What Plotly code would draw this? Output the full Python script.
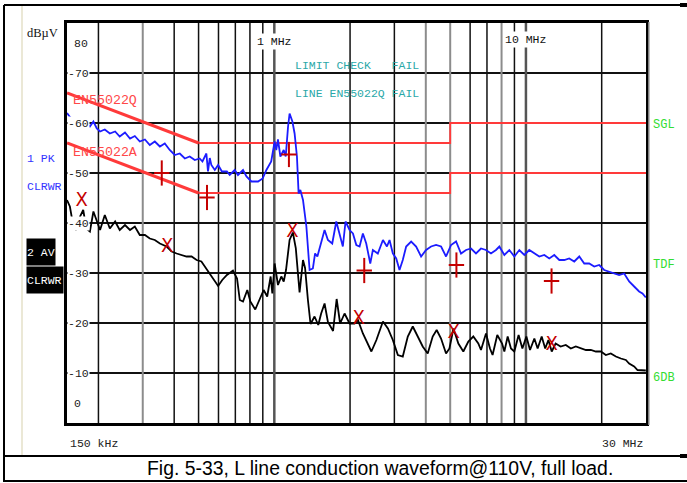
import math
import plotly.graph_objects as go

# ---------------- data ----------------
pk_freq = [0.150, 0.154, 0.161, 0.169, 0.177, 0.185, 0.191, 0.197, 0.203, 0.212,
           0.222, 0.233, 0.243, 0.255, 0.267, 0.279, 0.292, 0.306, 0.320, 0.335,
           0.351, 0.367, 0.384, 0.402, 0.421, 0.441, 0.461, 0.483, 0.505, 0.518,
           0.537, 0.545, 0.554, 0.562, 0.580, 0.598, 0.619, 0.648, 0.665, 0.696,
           0.717, 0.751, 0.775, 0.811, 0.862, 0.899, 0.930, 0.972, 1.003, 1.018,
           1.034, 1.057, 1.090, 1.110, 1.134, 1.150, 1.180, 1.204, 1.230, 1.249,
           1.269, 1.300, 1.341, 1.381, 1.423, 1.452, 1.483, 1.530, 1.584, 1.633,
           1.699, 1.763, 1.817, 1.872, 1.919, 1.991, 2.053, 2.118, 2.182, 2.249,
           2.319, 2.406, 2.464, 2.578, 2.702, 2.803, 2.870, 2.958, 3.051, 3.144,
           3.240, 3.342, 3.498, 3.661, 3.831, 4.011, 4.197, 4.394, 4.599, 4.814,
           5.039, 5.275, 5.521, 5.779, 6.050, 6.331, 6.628, 6.938, 7.262, 7.602,
           7.841, 8.207, 8.591, 8.993, 9.413, 9.853, 10.31, 10.80, 11.30, 11.83,
           12.38, 12.96, 13.57, 14.20, 14.86, 15.56, 16.29, 17.05, 17.84, 18.68,
           19.55, 20.46, 21.42, 22.42, 23.47, 24.57, 25.71, 26.92, 28.17, 29.04,
           29.95]
pk_level = [62.0, 61.2, 60.3, 59.6, 60.5, 59.3, 60.3, 58.9, 58.3, 58.7,
            57.9, 58.3, 57.3, 58.1, 56.9, 57.4, 56.3, 56.7, 55.6, 56.3,
            55.3, 55.9, 54.6, 53.6, 53.9, 52.9, 53.3, 52.6, 52.9, 52.3,
            53.9, 50.3, 53.0, 51.6, 50.6, 51.6, 50.3, 50.3, 49.6, 50.6,
            49.6, 50.6, 49.3, 48.3, 48.3, 48.9, 50.6, 52.3, 56.3, 54.6,
            56.7, 53.3, 54.6, 53.3, 59.3, 61.9, 60.3, 57.9, 53.3, 45.9,
            46.6, 44.6, 39.3, 30.6, 30.9, 33.9, 33.3, 35.9, 38.6, 36.6,
            35.9, 40.3, 37.9, 35.3, 40.3, 38.6, 37.9, 35.6, 35.3, 37.9,
            35.9, 31.9, 34.6, 33.9, 36.6, 35.3, 36.6, 33.9, 32.9, 30.6,
            32.6, 35.3, 36.3, 35.3, 33.3, 34.6, 35.3, 35.6, 35.3, 33.3,
            35.6, 36.3, 33.9, 34.6, 34.9, 33.9, 34.9, 34.6, 33.9, 34.6,
            35.3, 33.6, 34.6, 33.3, 34.6, 33.6, 34.6, 33.9, 33.3, 33.6,
            32.9, 33.6, 32.6, 32.6, 32.9, 32.3, 33.3, 31.9, 31.9, 31.3,
            31.6, 30.6, 30.3, 29.9, 29.6, 29.9, 28.3, 27.3, 26.3, 25.9,
            25.1]

av_freq = [0.150, 0.154, 0.159, 0.163, 0.169, 0.174, 0.179, 0.185, 0.191, 0.197,
           0.203, 0.212, 0.222, 0.233, 0.243, 0.255, 0.267, 0.279, 0.292, 0.306,
           0.320, 0.335, 0.351, 0.373, 0.391, 0.409, 0.428, 0.448, 0.469, 0.491,
           0.513, 0.537, 0.562, 0.588, 0.598, 0.621, 0.648, 0.685, 0.711, 0.729,
           0.751, 0.781, 0.803, 0.840, 0.870, 0.907, 0.937, 0.967, 0.982, 1.003,
           1.034, 1.066, 1.090, 1.113, 1.150, 1.185, 1.217, 1.260, 1.300, 1.325,
           1.360, 1.393, 1.445, 1.495, 1.535, 1.584, 1.633, 1.712, 1.769, 1.826,
           1.902, 1.991, 2.084, 2.149, 2.249, 2.354, 2.431, 2.545, 2.702, 2.828,
           2.958, 3.097, 3.240, 3.392, 3.550, 3.716, 3.888, 4.070, 4.260, 4.418,
           4.599, 4.814, 4.965, 5.152, 5.388, 5.638, 5.903, 6.177, 6.467, 6.628,
           6.938, 7.196, 7.369, 7.693, 8.040, 8.207, 8.460, 8.720, 8.993, 9.350,
           9.680, 10.04, 10.38, 10.80, 11.13, 11.55, 11.93, 12.28, 12.66, 13.12,
           13.73, 14.40, 15.08, 15.78, 16.51, 17.31, 18.11, 18.96, 19.85, 20.77,
           21.74, 22.77, 23.84, 24.95, 25.71, 26.92, 27.76, 29.04, 29.95]
av_level = [44.6, 43.3, 39.3, 38.6, 41.3, 42.6, 38.9, 38.3, 42.3, 40.6,
            38.6, 41.6, 38.9, 40.3, 38.6, 39.6, 38.6, 39.3, 37.6, 37.6,
            36.9, 36.6, 35.9, 35.3, 34.3, 33.9, 33.6, 33.3, 33.3, 32.6,
            32.3, 30.9, 29.3, 27.9, 27.4, 28.6, 29.6, 30.5, 28.9, 24.6,
            24.3, 26.6, 24.3, 22.7, 24.6, 26.6, 25.3, 29.3, 25.9, 31.9,
            27.6, 29.3, 28.3, 30.6, 36.6, 38.1, 35.0, 26.1, 32.6, 31.0,
            24.6, 19.8, 21.3, 19.6, 21.9, 23.9, 20.2, 18.4, 24.8, 19.9,
            21.9, 19.9, 19.9, 20.6, 17.9, 15.9, 14.3, 16.6, 20.3, 18.9,
            16.6, 13.6, 13.3, 17.3, 19.3, 17.3, 15.3, 13.9, 17.3, 18.6,
            16.9, 13.9, 14.9, 18.9, 15.9, 14.3, 16.3, 17.3, 15.9, 14.6,
            17.9, 14.9, 13.6, 17.6, 15.9, 14.3, 17.3, 14.9, 14.3, 17.6,
            14.9, 17.3, 14.6, 16.9, 14.9, 17.3, 14.9, 16.6, 14.3, 15.9,
            15.3, 15.6, 14.9, 15.3, 14.9, 14.6, 14.6, 14.3, 14.3, 13.6,
            13.9, 13.3, 12.9, 12.6, 11.9, 11.3, 10.6, 10.5, 10.5]

# limit lines EN55022 class B (quasi-peak "Q" and average "A")
limit_slope_freq = [0.15, 0.5]
limit_q_slope = [66, 56]
limit_a_slope = [56, 46]
limit_flat_freq = [0.5, 5, 5, 30]
limit_q_flat = [56, 56, 60, 60]
limit_a_flat = [46, 46, 50, 50]

# final-measurement markers
qp_mark_freq = [0.357, 0.540, 1.143, 2.277, 5.293, 12.64]
qp_mark_level = [50.0, 45.1, 53.7, 30.5, 31.6, 28.4]
av_mark_freq = [0.1717, 0.375, 1.179, 2.162, 5.164, 12.64]
av_mark_level = [44.4, 35.3, 38.3, 20.8, 18.0, 15.6]

# grid
grid_black = [0.2, 0.4, 0.5, 0.6, 0.7, 0.8, 0.9, 2, 3, 6, 7, 9, 20]
grid_gray = [0.3, 4, 5, 8]
grid_dark = [1, 10]
y_grid = [10, 20, 30, 40, 50, 60, 70]
y_min, y_max = 0, 80
f_min, f_max = 0.15, 30

MONO = "Liberation Mono"
BLUE = "#1c1cff"
RED = "#ff3a3a"
DARKRED = "#c40000"

fig = go.Figure()


def vlines(freqs):
    xs, ys = [], []
    for f in freqs:
        xs += [f, f, None]
        ys += [y_min, y_max, None]
    return xs, ys


for freqs, col, w in [(grid_black, "#111111", 1.5), (grid_gray, "#8c8c8c", 2),
                      (grid_dark, "#555555", 2.5)]:
    xs, ys = vlines(freqs)
    fig.add_trace(go.Scatter(x=xs, y=ys, mode="lines", line=dict(color=col, width=w),
                             hoverinfo="skip"))

# limit lines
for lv in (limit_q_slope, limit_a_slope):
    fig.add_trace(go.Scatter(x=limit_slope_freq, y=lv, mode="lines",
                             line=dict(color=RED, width=3)))
for lv in (limit_q_flat, limit_a_flat):
    fig.add_trace(go.Scatter(x=limit_flat_freq, y=lv, mode="lines",
                             line=dict(color=RED, width=1.8)))

# traces
fig.add_trace(go.Scatter(x=av_freq, y=av_level, mode="lines",
                         line=dict(color="#000000", width=1.8)))
fig.add_trace(go.Scatter(x=pk_freq, y=pk_level, mode="lines",
                         line=dict(color=BLUE, width=1.8)))

# markers
fig.add_trace(go.Scatter(x=qp_mark_freq, y=qp_mark_level, mode="markers",
                         marker=dict(symbol="line-ns", size=18,
                                     line=dict(color=DARKRED, width=2))))
fig.add_trace(go.Scatter(x=qp_mark_freq, y=qp_mark_level, mode="markers",
                         marker=dict(symbol="line-ew", size=11,
                                     line=dict(color=DARKRED, width=2))))
fig.add_trace(go.Scatter(x=av_mark_freq, y=av_mark_level, mode="text",
                         text=["X"] * len(av_mark_freq),
                         textfont=dict(family="Liberation Sans Narrow, DejaVu Sans Condensed, "
                                              "Liberation Mono", size=20, color=DARKRED)))

ann = []


def px_x(px):
    return (px - 67) / 579.0


def px_y(py):
    return (423 - py) / 400.0


def label(x, y, text, xanchor="left", xref="paper", yref="paper", **kw):
    d = dict(x=x, y=y, xref=xref, yref=yref, text=text, showarrow=False,
             xanchor=xanchor, yanchor="middle")
    d.update(kw)
    ann.append(d)


# y tick labels
for v in y_grid:
    label(0, v, "-%d" % v, yref="y", font=dict(family=MONO, size=11.5, color="#222"),
          bgcolor="white", borderpad=0)
label(0, y_max, "80", yref="y", xshift=5, yshift=-20,
      font=dict(family=MONO, size=11.5, color="#222"))
label(0, y_min, "0", yref="y", xshift=5, yshift=20,
      font=dict(family=MONO, size=11.5, color="#222"))

# frequency labels
label(math.log10(1), px_y(41), "1 MHz", xanchor="center", xref="x",
      font=dict(family=MONO, size=11.5, color="#111"), bgcolor="white", borderpad=1)
label(math.log10(10), px_y(40), "10 MHz", xanchor="center", xref="x",
      font=dict(family=MONO, size=11.5, color="#111"), bgcolor="white", borderpad=1)
label(0, px_y(443), "150 kHz", xshift=1, font=dict(family=MONO, size=11.5, color="#222"))
label(1, px_y(443), "30 MHz", xanchor="right", xshift=-1,
      font=dict(family=MONO, size=11.5, color="#222"))

# limit check text
TEAL = "#2aa8a8"
nb = "\u00a0"
label(px_x(293), px_y(65), "LIMIT" + nb + "CHECK" + nb * 3 + "FAIL",
      font=dict(family=MONO, size=11.5, color=TEAL))
label(px_x(293), px_y(93), "LINE" + nb + "EN55022Q" + nb + "FAIL",
      font=dict(family=MONO, size=11.5, color=TEAL))
label(px_x(71), px_y(100), "EN55022Q", font=dict(family=MONO, size=13.3, color="#ff4848"))
label(px_x(71), px_y(152), "EN55022A", font=dict(family=MONO, size=13.3, color="#ff4848"))

# left-side labels
label(px_x(25), px_y(33), "dBµV", font=dict(family="Liberation Serif", size=12.5, color="#111"))
label(px_x(25), px_y(158), "1" + nb + "PK", font=dict(family=MONO, size=11.5, color="#3333ff"))
label(px_x(25), px_y(186), "CLRWR", font=dict(family=MONO, size=11.5, color="#3333ff"))
label(px_x(26), px_y(251.5), "2" + nb + "AV", bgcolor="black", borderpad=0, width=28,
      height=26, align="left", font=dict(family=MONO, size=11.5, color="white"))
label(px_x(26), px_y(279.5), "CLRWR", bgcolor="black", borderpad=0, width=36,
      height=26, align="left", font=dict(family=MONO, size=11.5, color="white"))

# right-side labels
GREEN = "#33dd33"
for txt, py in [("SGL", 125), ("TDF", 265), ("6DB", 378)]:
    label(px_x(651), px_y(py), txt, font=dict(family=MONO, size=12, color=GREEN))

# caption
label(px_x(380), px_y(468), "Fig. 5-33, L line conduction waveform@110V, full load.",
      xanchor="center", font=dict(family="Liberation Sans", size=19.4, color="#000"))

shapes = []


def hline(x0, x1, y, color="black", width=2):
    shapes.append(dict(type="line", xref="paper", yref="paper", x0=px_x(x0), x1=px_x(x1),
                       y0=px_y(y), y1=px_y(y), line=dict(color=color, width=width)))


def vline(x, y0, y1, color="black", width=2):
    shapes.append(dict(type="line", xref="paper", yref="paper", x0=px_x(x), x1=px_x(x),
                       y0=px_y(y0), y1=px_y(y1), line=dict(color=color, width=width)))


# outer frame
hline(4, 687, 5)
vline(4, 5, 482)
vline(22, 6, 455, color="#ebe8d6")
hline(4, 687, 456)
hline(4, 687, 481)
hline(680, 687, 5, width=4)
hline(680, 687, 456, width=4)
vline(649, 22, 425, color="#aaaaaa", width=1.5)

fig.update_layout(
    width=687, height=483,
    margin=dict(l=67, r=41, t=23, b=60),
    paper_bgcolor="white", plot_bgcolor="white",
    showlegend=False,
    annotations=ann, shapes=shapes,
    xaxis=dict(type="log", range=[math.log10(f_min), math.log10(f_max)],
               showgrid=False, showticklabels=False, zeroline=False, ticks="",
               showline=True, linewidth=3, linecolor="black", mirror=True),
    yaxis=dict(range=[y_min, y_max], tickvals=y_grid, showgrid=True, gridcolor="#111111",
               gridwidth=1.5, showticklabels=False, zeroline=False, ticks="",
               showline=True, linewidth=3, linecolor="black", mirror=True),
)

fig.write_html("out.html", config={"displayModeBar": False},
               post_script="document.body.style.margin='0px';")
